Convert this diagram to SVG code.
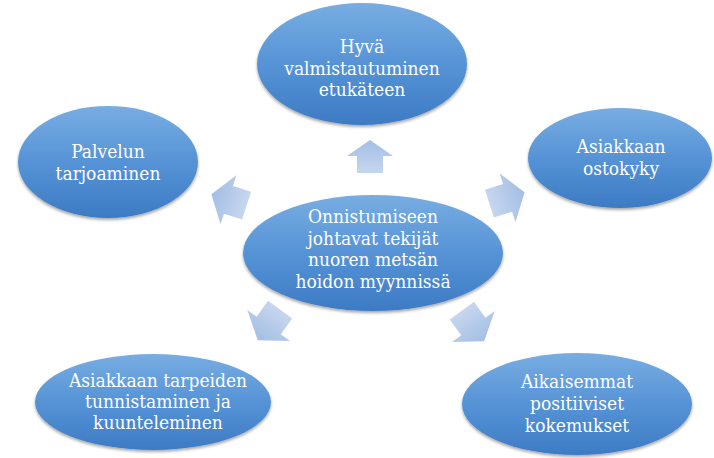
<svg xmlns="http://www.w3.org/2000/svg" width="714" height="458" viewBox="0 0 714 458">
<defs>
<linearGradient id="eg" x1="0" y1="0" x2="0" y2="1">
<stop offset="0" stop-color="#78ade2"/>
<stop offset="0.5" stop-color="#5693d6"/>
<stop offset="1" stop-color="#3d7bc4"/>
</linearGradient>
<linearGradient id="ag" x1="0" y1="0" x2="1" y2="0">
<stop offset="0" stop-color="#c6d6ee"/>
<stop offset="1" stop-color="#a4bee5"/>
</linearGradient>
<filter id="sh" x="-10%" y="-10%" width="120%" height="130%">
<feGaussianBlur in="SourceAlpha" stdDeviation="1.5"/>
<feOffset dx="0" dy="2" result="b"/>
<feComponentTransfer><feFuncA type="linear" slope="0.35"/></feComponentTransfer>
<feMerge><feMergeNode/><feMergeNode in="SourceGraphic"/></feMerge>
</filter>
<path id="arr" d="M-16.5,-13 L0.5,-13 L0.5,-23 L16.5,0 L0.5,23 L0.5,13 L-16.5,13 Z"/>
</defs>
<style>
.node ellipse{fill:url(#eg);filter:url(#sh)}
.node text{fill:#ffffff;font-size:19px;text-anchor:middle;font-family:"DejaVu Serif Condensed","DejaVu Serif",serif;font-stretch:condensed}
.conn use{fill:url(#ag)}
</style>
<rect width="714" height="458" fill="#ffffff"/>
<g id="connectors" class="conn">
<use href="#arr" transform="translate(370,156.5) rotate(-90)"/>
<use href="#arr" transform="translate(507,198) rotate(-18) scale(1.12)"/>
<use href="#arr" transform="translate(229,200) rotate(198) scale(1.12)"/>
<use href="#arr" transform="translate(269,325) rotate(126) scale(1.15)"/>
<use href="#arr" transform="translate(473,326) rotate(54) scale(1.15)"/>
</g>
<g id="node-center" class="node">
<ellipse cx="373" cy="253" rx="130" ry="58"/>
<text x="373" y="223">Onnistumiseen</text>
<text x="373" y="244.5">johtavat tekijät</text>
<text x="373" y="266">nuoren metsän</text>
<text x="373" y="287.5">hoidon myynnissä</text>
</g>
<g id="node-top" class="node">
<ellipse cx="362" cy="64" rx="105" ry="61"/>
<text x="362" y="53">Hyvä</text>
<text x="362" y="74.5">valmistautuminen</text>
<text x="362" y="96">etukäteen</text>
</g>
<g id="node-left" class="node">
<ellipse cx="108" cy="162" rx="90" ry="56"/>
<text x="108" y="158">Palvelun</text>
<text x="108" y="179.5">tarjoaminen</text>
</g>
<g id="node-right" class="node">
<ellipse cx="620" cy="158" rx="92" ry="50"/>
<text x="621" y="153">Asiakkaan</text>
<text x="621" y="174.5">ostokyky</text>
</g>
<g id="node-bottom-left" class="node">
<ellipse cx="153" cy="402" rx="118" ry="48"/>
<text x="158" y="387">Asiakkaan tarpeiden</text>
<text x="158" y="408">tunnistaminen ja</text>
<text x="158" y="429">kuunteleminen</text>
</g>
<g id="node-bottom-right" class="node">
<ellipse cx="577" cy="404" rx="115" ry="51"/>
<text x="577" y="388">Aikaisemmat</text>
<text x="577" y="410">positiiviset</text>
<text x="577" y="432">kokemukset</text>
</g>
</svg>
